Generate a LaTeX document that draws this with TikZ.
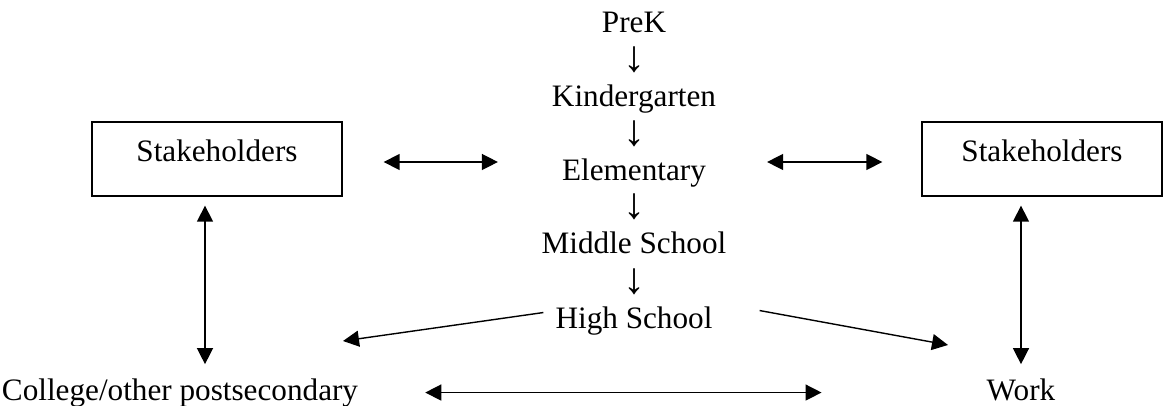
\documentclass[tikz,border=0pt]{standalone}
\usepackage{fontspec}
\setmainfont{Liberation Serif}
\usetikzlibrary{arrows.meta}
\begin{document}
\begin{tikzpicture}[x=1pt,y=1pt,
  txt/.style={inner sep=0pt, anchor=base, font=\fontsize{31.2}{37}\selectfont},
  down/.style={inner sep=0pt, anchor=base, font=\fontsize{44}{50}\selectfont},
  stakebox/.style={txt, draw, line width=1.3pt, text height=40pt, text depth=34pt},
  arr/.style={line width=1.4pt, -{Triangle[length=16pt,width=16pt]}},
  dbl/.style={line width=1.4pt, {Triangle[length=16pt,width=16pt]}-{Triangle[length=16pt,width=16pt]}}]
\useasboundingbox (0,0) rectangle (1165,-406);
% centre column
\node[txt] (prek) at (634,-33) {PreK};
\node[down] (a1) at (634,-72) {↓};
\node[txt] (kg) at (634,-107) {Kindergarten};
\node[down] (a2) at (634,-146) {↓};
\node[txt] (elem) at (634,-181) {Elementary};
\node[down] (a3) at (634,-219) {↓};
\node[txt] (mid) at (634,-254) {Middle School};
\node[down] (a4) at (634,-293) {↓};
\node[txt] (high) at (634,-328) {High School};
% stakeholder boxes
\node[stakebox, minimum width=250pt] (sl) at (217,-162) {Stakeholders};
\node[stakebox, minimum width=240pt] (sr) at (1042,-162) {Stakeholders};
% outcomes
\node[txt] (college) at (180,-400) {College/other postsecondary};
\node[txt] (work) at (1021,-400) {Work};
\coordinate (hl) at (343,-341);
\coordinate (hr) at (948,-345);
% connectors
\draw[dbl, shorten <=41pt, shorten >=64pt] (sl.base east) -- (sl.base east -| elem.west);
\draw[dbl, shorten <=61pt, shorten >=39pt] (sr.base west -| elem.east) -- (sr.base west);
\draw[dbl] ([shift={(-12pt,-9pt)}]sl.south) -- ([shift={(25pt,14pt)}]college.north);
\draw[dbl] ([yshift=-9pt]sr.south -| work.north) -- ([yshift=14pt]work.north);
\draw[arr] ([shift={(-12pt,8pt)}]high.west) -- (hl);
\draw[arr] ([shift={(47pt,10pt)}]high.east) -- (hr);
\draw[dbl, shorten <=67pt, shorten >=165pt] (college.east) -- (college.east -| work.west);
\end{tikzpicture}
\end{document}
